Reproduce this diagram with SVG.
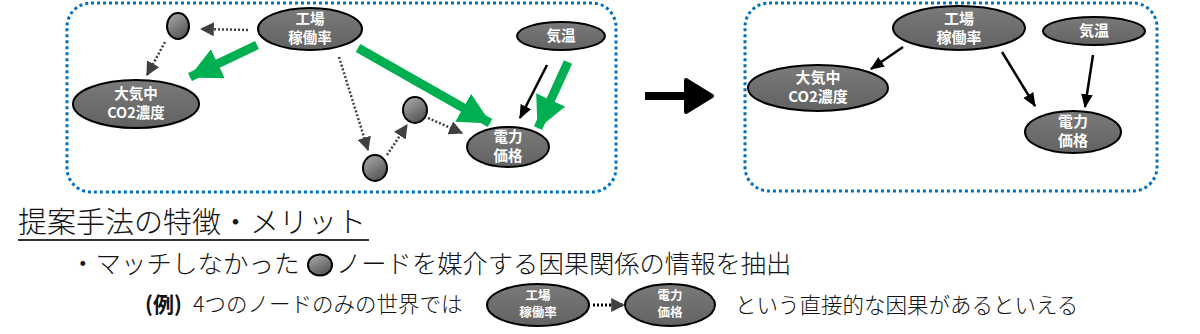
<svg xmlns="http://www.w3.org/2000/svg" width="1200" height="334" viewBox="0 0 1200 334">
<style>
.box{fill:none;stroke:#0070c0;stroke-width:3;stroke-dasharray:3 3}
.node{fill:url(#ng);stroke:#000;stroke-width:2}
.sm{fill:url(#sg);stroke:#000;stroke-width:2}
.nt{font-family:"Noto Sans CJK JP","Noto Sans",sans-serif;font-weight:700;fill:#fff;text-anchor:middle}
.green{stroke:#00b050;stroke-width:9;fill:none;marker-end:url(#mg)}
.blk{stroke:#000;stroke-width:2.5;fill:none;marker-end:url(#mb)}
.dot{stroke:#404040;stroke-width:2.5;stroke-dasharray:2 2;fill:none;marker-end:url(#md)}
.body{font-family:"Noto Sans CJK JP",sans-serif;font-weight:300;fill:#111}
</style>
<defs>
<linearGradient id="ng" x1="0" y1="0" x2="0" y2="1"><stop offset="0" stop-color="#7a7a7a"/><stop offset="1" stop-color="#626262"/></linearGradient>
<linearGradient id="sg" x1="0.2" y1="0" x2="0.8" y2="1"><stop offset="0" stop-color="#a8a8a8"/><stop offset="1" stop-color="#4f4f4f"/></linearGradient>
<marker id="mg" markerUnits="userSpaceOnUse" markerWidth="32" markerHeight="32" viewBox="0 0 28 28" refX="27" refY="14" orient="auto"><path d="M0,0 L28,14 L0,28 Z" fill="#00b050"/></marker>
<marker id="mb" markerUnits="userSpaceOnUse" markerWidth="14" markerHeight="14" viewBox="0 0 12 10" refX="11" refY="5" orient="auto"><path d="M0,0 L12,5 L0,10 Z" fill="#000"/></marker>
<marker id="md" markerUnits="userSpaceOnUse" markerWidth="14" markerHeight="14" viewBox="0 0 12 12" refX="11" refY="6" orient="auto"><path d="M0,0 L12,6 L0,12 Z" fill="#404040"/></marker>
</defs>

<rect class="box" x="67" y="3" width="549" height="189" rx="24"/>
<rect class="box" x="745" y="3" width="412" height="188" rx="24"/>

<g id="connectors">
<path class="dot" d="M248,30 L201,29"/>
<path class="dot" d="M165,42 L147,75"/>
<path class="green" d="M257,45 L190,77"/>
<path class="green" d="M358,48 L490,123"/>
<path class="dot" d="M339,57 L368,150"/>
<path class="dot" d="M387,155 L407,125"/>
<path class="dot" d="M428,118 L462,133"/>
<path class="blk" d="M547,65 L520,118"/>
<path class="green" d="M568,62 L538,128"/>
<path class="blk" d="M903,47 L871,69"/>
<path class="blk" d="M1002,52 L1035,106"/>
<path class="blk" d="M1093,55 L1085,107"/>
<path class="dot" d="M593,305 L624,305" style="stroke:#000;stroke-width:3"/>
</g>

<g id="big-arrow">
<rect x="645" y="92" width="44" height="8" fill="#000"/>
<path d="M686,80 L712,96 L686,112 Z" fill="#000" stroke="#000" stroke-width="4" stroke-linejoin="round"/>
</g>

<g id="L-factory"><ellipse class="node" cx="310" cy="29" rx="52" ry="21"/><text class="nt" x="310" y="24" font-size="14.5">工場</text><text class="nt" x="310" y="43" font-size="14.5">稼働率</text></g>
<g id="L-small1"><ellipse class="sm" cx="178" cy="26" rx="11" ry="13"/></g>
<g id="L-temp"><ellipse class="node" cx="561" cy="36" rx="44" ry="14"/><text class="nt" x="561" y="41" font-size="14.5">気温</text></g>
<g id="L-co2"><ellipse class="node" cx="136" cy="104" rx="63" ry="24"/><text class="nt" x="136" y="99" font-size="14.5">大気中</text><text class="nt" x="136" y="118" font-size="14.5">CO2濃度</text></g>
<g id="L-small2"><ellipse class="sm" cx="415" cy="110" rx="12" ry="13"/></g>
<g id="L-small3"><ellipse class="sm" cx="375" cy="168" rx="12" ry="13"/></g>
<g id="L-price"><ellipse class="node" cx="508" cy="147" rx="41" ry="20"/><text class="nt" x="508" y="142" font-size="14.5">電力</text><text class="nt" x="508" y="161" font-size="14.5">価格</text></g>

<g id="R-factory"><ellipse class="node" cx="959" cy="28" rx="66" ry="22"/><text class="nt" x="959" y="24" font-size="15">工場</text><text class="nt" x="959" y="43" font-size="15">稼働率</text></g>
<g id="R-temp"><ellipse class="node" cx="1094" cy="31" rx="51" ry="14"/><text class="nt" x="1094" y="36" font-size="15">気温</text></g>
<g id="R-co2"><ellipse class="node" cx="818" cy="88" rx="70" ry="23"/><text class="nt" x="818" y="83" font-size="15">大気中</text><text class="nt" x="818" y="102" font-size="15">CO2濃度</text></g>
<g id="R-price"><ellipse class="node" cx="1073" cy="132" rx="48" ry="21"/><text class="nt" x="1073" y="127" font-size="15">電力</text><text class="nt" x="1073" y="146" font-size="15">価格</text></g>

<g id="heading">
<text class="body" x="18" y="233" font-size="29">提案手法の特徴・メリット</text>
<line x1="18" y1="240" x2="369" y2="240" stroke="#333" stroke-width="2"/>
</g>
<g id="bullet">
<text class="body" x="70" y="273" font-size="25.5">・マッチしなかった</text>
<ellipse class="sm" cx="320" cy="265" rx="12" ry="10.5"/>
<text class="body" x="336" y="273" font-size="25.3">ノードを媒介する因果関係の情報を抽出</text>
</g>
<g id="example">
<text x="145" y="312" font-size="21" font-family="Noto Sans CJK JP,sans-serif" font-weight="700" fill="#111">(例)</text>
<text class="body" x="193" y="312" font-size="21.5">4つのノードのみの世界では</text>
<g id="E-factory"><ellipse class="node" cx="538" cy="305" rx="51" ry="21"/><text class="nt" x="538" y="300" font-size="12.5">工場</text><text class="nt" x="538" y="317" font-size="12.5">稼働率</text></g>
<g id="E-price"><ellipse class="node" cx="670" cy="305" rx="45" ry="21"/><text class="nt" x="670" y="300" font-size="12.5">電力</text><text class="nt" x="670" y="317" font-size="12.5">価格</text></g>
<text class="body" x="735" y="313" font-size="21.5">という直接的な因果があるといえる</text>
</g>
</svg>
